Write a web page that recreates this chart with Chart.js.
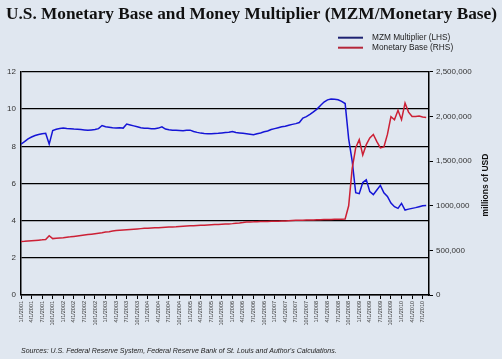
<!DOCTYPE html>
<html>
<head>
<meta charset="utf-8">
<script src="https://cdn.jsdelivr.net/npm/chart.js@4"></script>
<style>
  html, body { margin: 0; padding: 0; background: #e0e7f0; }
  canvas { display: block; }
</style>
</head>
<body>
<canvas id="multiplier" width="502" height="359"></canvas>
<script>
// quarterly tick labels along the x-axis (x value = months since Jan 2001)
var quarterLabels = [
  "1/1/2001", "4/1/2001", "7/1/2001", "10/1/2001",
  "1/1/2002", "4/1/2002", "7/1/2002", "10/1/2002",
  "1/1/2003", "4/1/2003", "7/1/2003", "10/1/2003",
  "1/1/2004", "4/1/2004", "7/1/2004", "10/1/2004",
  "1/1/2005", "4/1/2005", "7/1/2005", "10/1/2005",
  "1/1/2006", "4/1/2006", "7/1/2006", "10/1/2006",
  "1/1/2007", "4/1/2007", "7/1/2007", "10/1/2007",
  "1/1/2008", "4/1/2008", "7/1/2008", "10/1/2008",
  "1/1/2009", "4/1/2009", "7/1/2009", "10/1/2009",
  "1/1/2010", "4/1/2010", "7/1/2010"
];

var leftTicks = ["0", "2", "4", "6", "8", "10", "12"];
var rightTicks = ["0", "500,000", "1000,000", "1,500,000", "2,000,000", "2,500,000"];

// monthly values, Jan 2001 .. Aug 2010
var mzmMultiplier = [
  8.12, 8.25, 8.40, 8.50, 8.58, 8.64, 8.68, 8.70, 8.12, 8.85, 8.92, 8.96,
  8.98, 8.96, 8.95, 8.93, 8.92, 8.90, 8.88, 8.86, 8.88, 8.90, 8.95, 9.12,
  9.05, 9.03, 9.00, 8.98, 9.00, 8.98, 9.20, 9.15, 9.10, 9.05, 9.00, 8.97,
  8.97, 8.95, 8.95, 8.98, 9.05, 8.93, 8.89, 8.87, 8.86, 8.85, 8.84, 8.86,
  8.87, 8.80, 8.75, 8.71, 8.69, 8.68, 8.68, 8.69, 8.70, 8.72, 8.74, 8.76,
  8.80, 8.74, 8.72, 8.70, 8.68, 8.65, 8.62, 8.68, 8.72, 8.78, 8.82, 8.90,
  8.95, 9.00, 9.05, 9.08, 9.13, 9.18, 9.22, 9.28, 9.52, 9.60, 9.72, 9.85,
  10.00, 10.20, 10.38, 10.50, 10.55, 10.53, 10.50, 10.42, 10.30, 8.40, 7.20, 5.50,
  5.45, 6.05, 6.20, 5.56, 5.40, 5.65, 5.90, 5.50, 5.30, 4.95, 4.75, 4.66,
  4.93, 4.57, 4.62, 4.66, 4.70, 4.75, 4.80, 4.82
];

var monetaryBase = [
  601000, 603000, 606000, 609000, 612000, 615000, 618000, 622000, 665000, 632000, 637000, 640000,
  643000, 648000, 652000, 657000, 662000, 667000, 672000, 677000, 682000, 687000, 692000, 697000,
  705000, 710000, 717000, 722000, 726000, 729000, 732000, 735000, 738000, 741000, 744000, 747000,
  749000, 751000, 753000, 755000, 757000, 759000, 761000, 763000, 765000, 768000, 771000, 773000,
  775000, 777000, 779000, 781000, 783000, 785000, 787000, 789000, 791000, 793000, 795000, 797000,
  800000, 805000, 808000, 812000, 817000, 819000, 820000, 822000, 823000, 824000, 825000, 826000,
  827000, 828000, 829000, 830000, 833000, 836000, 837000, 838000, 839000, 840000, 841000, 842000,
  843000, 844000, 845000, 846000, 847000, 848000, 849000, 850000, 852000, 1000000, 1420000, 1650000,
  1741000, 1570000, 1685000, 1760000, 1800000, 1720000, 1648000, 1660000, 1800000, 2000000, 1965000, 2070000,
  1965000, 2150000, 2050000, 2000000, 2000000, 2005000, 1995000, 1990000
];

var legendItems = [
  { text: "MZM Multiplier (LHS)", color: "#1d2272" },
  { text: "Monetary Base (RHS)", color: "#b5273a" }
];

Chart.defaults.font.family = '"Liberation Sans", Arial, sans-serif';

// paints the page colour behind everything
var background = {
  id: "background",
  beforeDraw: function (chart) {
    var c = chart.ctx;
    c.save();
    c.fillStyle = "#e0e7f0";
    c.fillRect(0, 0, chart.width, chart.height);
    c.restore();
  }
};

// stacked legend at the top right and the rotated right-axis title
var extras = {
  id: "extras",
  afterDraw: function (chart) {
    var c = chart.ctx;
    c.save();
    c.lineWidth = 2;
    c.font = '8.3px "Liberation Sans", Arial, sans-serif';
    c.textBaseline = "middle";
    legendItems.forEach(function (item, i) {
      var y = 37.7 + i * 10;
      c.strokeStyle = item.color;
      c.beginPath();
      c.moveTo(338, y);
      c.lineTo(363, y);
      c.stroke();
      c.fillStyle = "#222";
      c.fillText(item.text, 372, y);
    });
    c.translate(486, 185);
    c.rotate(-Math.PI / 2);
    c.textAlign = "center";
    c.font = 'bold 8.5px "Liberation Sans", Arial, sans-serif';
    c.fillStyle = "#111";
    c.fillText("millions of USD", 0, 0);
    c.restore();
  }
};

var ctx = document.getElementById("multiplier");
var myChart = new Chart(ctx, {
  type: "line",
  data: {
    datasets: [
      {
        label: "MZM Multiplier (LHS)",
        data: mzmMultiplier.map(function (v, i) { return { x: i, y: v }; }),
        borderColor: "#1515d6",
        borderWidth: 1.5,
        pointRadius: 0,
        tension: 0,
        yAxisID: "y",
        order: 1
      },
      {
        label: "Monetary Base (RHS)",
        data: monetaryBase.map(function (v, i) { return { x: i, y: v }; }),
        borderColor: "#cc2035",
        borderWidth: 1.5,
        pointRadius: 0,
        tension: 0,
        yAxisID: "y2",
        order: 0
      }
    ]
  },
  options: {
    responsive: false,
    animation: false,
    devicePixelRatio: 1,
    layout: { padding: { left: 6, right: 0, top: 0, bottom: 0 } },
    plugins: {
      legend: { display: false },
      tooltip: { enabled: false },
      title: {
        display: true,
        text: "U.S. Monetary Base and Money Multiplier (MZM/Monetary Base)",
        align: "start",
        color: "#111",
        font: { family: '"Liberation Serif", serif', size: 17.3, weight: "bold" },
        padding: { top: 4, bottom: 47.2 }
      },
      subtitle: {
        display: true,
        text: "Sources: U.S. Federal Reserve System, Federal Reserve Bank of St. Louis and Author's Calculations.",
        position: "bottom",
        align: "start",
        fullSize: false,
        color: "#222",
        font: { size: 7, style: "italic" },
        padding: { top: 7, bottom: 3.6 }
      }
    },
    scales: {
      x: {
        type: "linear",
        min: 0,
        max: 115.8,
        afterBuildTicks: function (axis) {
          axis.ticks = quarterLabels.map(function (l, i) { return { value: i * 3 }; });
        },
        afterFit: function (axis) { axis.height = 45; },
        ticks: {
          autoSkip: false,
          minRotation: 90,
          maxRotation: 90,
          padding: 2,
          color: "#333",
          font: { size: 5.5 },
          callback: function (v) { return quarterLabels[Math.round(v / 3)]; }
        },
        grid: { drawOnChartArea: false, tickLength: 4, color: "#000" },
        border: { color: "#000", width: 1.5 }
      },
      y: {
        position: "left",
        min: 0,
        max: 12,
        afterFit: function (axis) { axis.width = 15; },
        ticks: {
          stepSize: 2,
          padding: 5,
          color: "#333",
          font: { size: 8 },
          callback: function (v) { return leftTicks[Math.round(v / 2)]; }
        },
        grid: { color: "#000", lineWidth: 1.3, drawTicks: false },
        border: { color: "#000", width: 1.5 }
      },
      y2: {
        position: "right",
        min: 0,
        max: 2500000,
        afterFit: function (axis) { axis.width = 73; },
        ticks: {
          stepSize: 500000,
          padding: 3,
          color: "#333",
          font: { size: 8 },
          callback: function (v) { return rightTicks[Math.round(v / 500000)]; }
        },
        grid: { drawOnChartArea: false, tickLength: 4, color: "#000" },
        border: { color: "#000", width: 1.5 }
      }
    }
  },
  plugins: [background, extras]
});
</script>
</body>
</html>
